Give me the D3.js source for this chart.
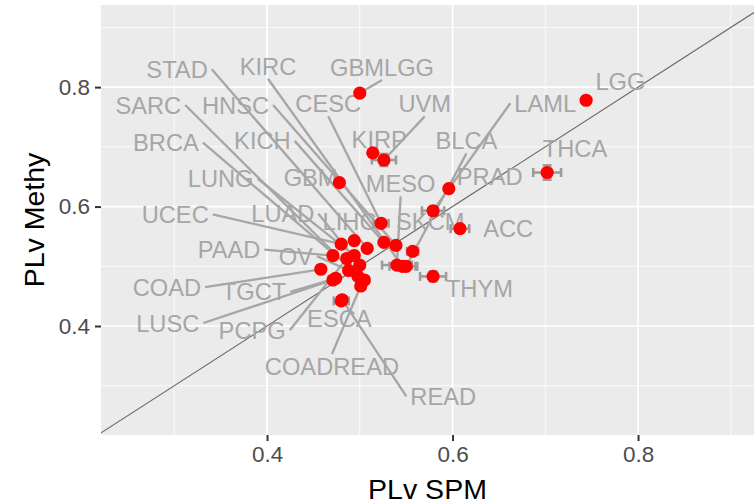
<!DOCTYPE html>
<html>
<head>
<meta charset="utf-8">
<script src="https://cdn.jsdelivr.net/npm/d3@7"></script>
<style>
  html, body { margin: 0; padding: 0; background: #fff; }
  svg { display: block; font-family: "Liberation Sans", Arial, sans-serif; }
</style>
</head>
<body>
<svg id="chart" width="754" height="504"></svg>
<script>
// ---- data ----
const cancers = ["LGG","THCA","GBMLGG","KIRP","UVM","GBM","PRAD","LAML","ACC","THYM","CESC",
  "UCEC","LIHC","STAD","KICH","HNSC","SKCM","PAAD","PCPG","LUNG","COAD","OV","LUAD","SARC",
  "BRCA","COADREAD","LUSC","ESCA","MESO","KIRC","BLCA","READ","TGCT"];
const plvSPM = [0.744,0.702,0.500,0.514,0.526,0.478,0.596,0.579,0.608,0.579,0.523,
  0.480,0.494,0.508,0.526,0.539,0.557,0.471,0.486,0.494,0.458,0.488,0.500,0.498,
  0.505,0.501,0.471,0.480,0.540,0.546,0.550,0.481,0.474];
const plvMethy = [0.778,0.657,0.790,0.690,0.678,0.640,0.630,0.593,0.563,0.483,0.572,
  0.537,0.543,0.530,0.540,0.535,0.525,0.518,0.513,0.518,0.495,0.493,0.502,0.483,
  0.477,0.467,0.477,0.442,0.502,0.500,0.500,0.444,0.480];
const spmErr = [0.002,0.015,0.002,0.003,0.013,0.002,0.003,0.012,0.010,0.014,0.008,
  0.003,0.003,0.003,0.003,0.003,0.006,0.003,0.003,0.003,0.003,0.003,0.003,0.003,
  0.003,0.003,0.003,0.008,0.016,0.014,0.012,0.003,0.003];
const methyErr = [0.002,0.012,0.002,0.003,0.010,0.002,0.003,0.006,0.004,0.008,0.004,
  0.003,0.003,0.003,0.003,0.003,0.004,0.003,0.003,0.003,0.003,0.003,0.003,0.003,
  0.003,0.003,0.003,0.005,0.004,0.004,0.004,0.003,0.003];
// repelled label positions (data units)
const labelSPM = [0.781,0.732,0.524,0.521,0.570,0.447,0.640,0.700,0.660,0.629,0.466,
  0.301,0.489,0.303,0.395,0.366,0.576,0.359,0.384,0.350,0.292,0.431,0.417,0.272,
  0.291,0.470,0.293,0.478,0.544,0.401,0.615,0.590,0.386];
const labelMethy = [0.810,0.698,0.833,0.712,0.772,0.648,0.650,0.773,0.563,0.463,0.772,
  0.587,0.575,0.830,0.710,0.770,0.575,0.528,0.393,0.647,0.465,0.517,0.588,0.770,
  0.707,0.332,0.405,0.412,0.638,0.835,0.710,0.282,0.457];
const noSegment = ["LGG","THCA","KIRP","GBM","PRAD","SKCM","ACC","THYM","ESCA","LIHC"];
const xTicks = [0.4, 0.6, 0.8];
const yTicks = [0.4, 0.6, 0.8];
const xMinor = [0.3, 0.5, 0.7, 0.9];
const yMinor = [0.3, 0.5, 0.7, 0.9];
const xTitle = "PLv SPM";
const yTitle = "PLv Methy";

// ---- layout ----
const svg = d3.select("#chart");
const P = { left: 101, right: 754, top: 5, bottom: 435 };
const x = d3.scaleLinear().domain([0.221, 0.925]).range([P.left, P.right]);
const y = d3.scaleLinear().domain([0.2175, 0.9375]).range([P.bottom, P.top]);

const data = cancers.map((c, i) => ({
  name: c, x: plvSPM[i], y: plvMethy[i], ex: spmErr[i], ey: methyErr[i],
  lx: labelSPM[i], ly: labelMethy[i]
}));

svg.append("defs").append("clipPath").attr("id", "panel-clip")
  .append("rect").attr("x", P.left).attr("y", P.top)
  .attr("width", P.right - P.left).attr("height", P.bottom - P.top);

// panel background
svg.append("rect").attr("x", P.left).attr("y", P.top)
  .attr("width", P.right - P.left).attr("height", P.bottom - P.top)
  .attr("fill", "#EBEBEB");

const grid = svg.append("g");
grid.selectAll("line.xm").data(xMinor).join("line").attr("class", "xm")
  .attr("x1", d => x(d)).attr("x2", d => x(d)).attr("y1", P.top).attr("y2", P.bottom)
  .attr("stroke", "#fff").attr("stroke-width", 0.8);
grid.selectAll("line.ym").data(yMinor).join("line").attr("class", "ym")
  .attr("y1", d => y(d)).attr("y2", d => y(d)).attr("x1", P.left).attr("x2", P.right)
  .attr("stroke", "#fff").attr("stroke-width", 0.8);
grid.selectAll("line.xM").data(xTicks).join("line").attr("class", "xM")
  .attr("x1", d => x(d)).attr("x2", d => x(d)).attr("y1", P.top).attr("y2", P.bottom)
  .attr("stroke", "#fff").attr("stroke-width", 1.7);
grid.selectAll("line.yM").data(yTicks).join("line").attr("class", "yM")
  .attr("y1", d => y(d)).attr("y2", d => y(d)).attr("x1", P.left).attr("x2", P.right)
  .attr("stroke", "#fff").attr("stroke-width", 1.7);

const plot = svg.append("g").attr("clip-path", "url(#panel-clip)");

// identity line
plot.append("line")
  .attr("x1", x(0.2)).attr("y1", y(0.2)).attr("x2", x(1)).attr("y2", y(1))
  .attr("stroke", "#6B6B6B").attr("stroke-width", 1.2);

// labels
const labelColor = "#A6A6A6";
const texts = plot.append("g").selectAll("text").data(data).join("text")
  .attr("x", d => x(d.lx)).attr("y", d => y(d.ly)).attr("dy", "0.36em")
  .attr("text-anchor", "middle").attr("font-size", 23.7).attr("fill", labelColor)
  .text(d => d.name);

// segments from the label side facing the point
const segs = [];
texts.each(function(d) {
  if (noSegment.includes(d.name)) return;
  const b = this.getBBox();
  const cx = x(d.lx), cy = y(d.ly);
  const px = x(d.x), py = y(d.y);
  const hw = b.width / 2 + 4, hh = 12.5;
  const dx = px - cx, dy = py - cy;
  let sx, sy;
  if (Math.abs(dx) > Math.abs(dy)) { sx = cx + Math.sign(dx) * hw; sy = cy; }
  else { sx = cx; sy = cy + Math.sign(dy) * hh; }
  segs.push({ x1: sx, y1: sy, x2: px, y2: py });
});
plot.append("g").selectAll("line").data(segs).join("line")
  .attr("x1", d => d.x1).attr("y1", d => d.y1).attr("x2", d => d.x2).attr("y2", d => d.y2)
  .attr("stroke", labelColor).attr("stroke-width", 2.3);

// error bars
const eb = plot.append("g").attr("stroke", "#9C9C9C").attr("stroke-width", 2.6);
const cap = 4.5;
data.forEach(d => {
  const x0 = x(d.x - d.ex), x1 = x(d.x + d.ex), py = y(d.y), px = x(d.x);
  eb.append("line").attr("x1", x0).attr("x2", x1).attr("y1", py).attr("y2", py);
  eb.append("line").attr("x1", x0).attr("x2", x0).attr("y1", py - cap).attr("y2", py + cap);
  eb.append("line").attr("x1", x1).attr("x2", x1).attr("y1", py - cap).attr("y2", py + cap);
  const y0 = y(d.y - d.ey), y1 = y(d.y + d.ey);
  eb.append("line").attr("x1", px).attr("x2", px).attr("y1", y0).attr("y2", y1);
  eb.append("line").attr("x1", px - cap).attr("x2", px + cap).attr("y1", y0).attr("y2", y0);
  eb.append("line").attr("x1", px - cap).attr("x2", px + cap).attr("y1", y1).attr("y2", y1);
});

// points
plot.append("g").selectAll("circle").data(data).join("circle")
  .attr("cx", d => x(d.x)).attr("cy", d => y(d.y)).attr("r", 6.6)
  .attr("fill", "#FF0000");

// axes
const xAxis = svg.append("g").attr("transform", `translate(0,${P.bottom})`)
  .call(d3.axisBottom(x).tickValues(xTicks).tickFormat(d3.format(".1f")).tickSize(6).tickPadding(5));
const yAxis = svg.append("g").attr("transform", `translate(${P.left},0)`)
  .call(d3.axisLeft(y).tickValues(yTicks).tickFormat(d3.format(".1f")).tickSize(6).tickPadding(5));
[xAxis, yAxis].forEach(a => {
  a.select(".domain").remove();
  a.selectAll(".tick line").attr("stroke", "#333333").attr("stroke-width", 2);
  a.selectAll(".tick text").attr("fill", "#4D4D4D").attr("font-size", 22.5)
    .attr("font-family", "'Liberation Sans', Arial, sans-serif");
});

svg.append("text").attr("x", (P.left + P.right) / 2).attr("y", 499)
  .attr("text-anchor", "middle").attr("font-size", 28.5).attr("fill", "#000").text(xTitle);
svg.append("text").attr("transform", `translate(44,${(P.top + P.bottom) / 2}) rotate(-90)`)
  .attr("text-anchor", "middle").attr("font-size", 28.5).attr("fill", "#000").text(yTitle);
</script>
</body>
</html>
